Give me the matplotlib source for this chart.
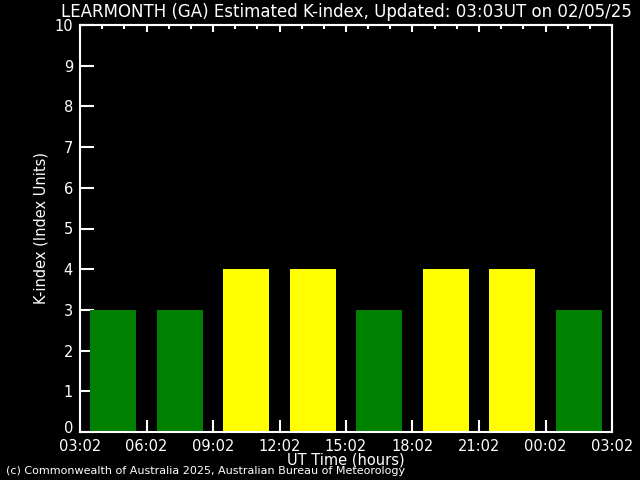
import matplotlib
matplotlib.use("Agg")
import matplotlib.pyplot as plt
from matplotlib.ticker import MultipleLocator
from matplotlib.transforms import ScaledTranslation

k_values = [3, 3, 4, 4, 3, 4, 4, 3]
bar_colors = ["#008000", "#008000", "#ffff00", "#ffff00", "#008000", "#ffff00", "#ffff00", "#008000"]
tick_labels = ["03:02", "06:02", "09:02", "12:02", "15:02", "18:02", "21:02", "00:02", "03:02"]
title = "LEARMONTH (GA) Estimated K-index, Updated: 03:03UT on 02/05/25"

fig = plt.figure(figsize=(6.4, 4.8), dpi=100, facecolor="black")
ax = fig.add_axes([80/640, 48/480, 532/640, 407/480], facecolor="black")

centers = [1.5 + 3*i for i in range(len(k_values))]
ax.bar(centers, k_values, width=2.08, color=bar_colors, zorder=2)

ax.set_xlim(0, 24)
ax.set_ylim(0, 10)
for s in ax.spines.values():
    s.set_color("white")
    s.set_linewidth(1.5)

ax.set_xticks(range(0, 25, 3))
ax.set_xticklabels(tick_labels)
ax.set_yticks(range(0, 11))
ax.tick_params(axis="x", which="major", direction="in", length=9, width=1.5,
               color="white", labelcolor="white", labelsize=10.5, top=False, pad=5)
ax.tick_params(axis="y", which="major", direction="in", length=10, width=1.5,
               color="white", labelcolor="white", labelsize=10.5, pad=5)

# shift the "0" label up slightly as in the reference
lbl0 = ax.get_yticklabels()[0]
lbl0.set_transform(lbl0.get_transform() + ScaledTranslation(0, 5/100, fig.dpi_scale_trans))

top = ax.secondary_xaxis("top")
top.set_xticks(range(0, 25, 3))
top.xaxis.set_minor_locator(MultipleLocator(1))
top.tick_params(axis="x", which="major", direction="in", length=5, width=1.5,
                color="white", labelleft=False, labeltop=False)
top.tick_params(axis="x", which="minor", direction="in", length=3, width=1.5, color="white")
top.spines["top"].set_color("white")
top.spines["top"].set_linewidth(1.5)

ax.set_ylabel("K-index (Index Units)", color="white", fontsize=10.5)
ax.yaxis.set_label_coords((49 - 80) / 532, 0.5)
fig.text(346/640, 1 - 460/480, "UT Time (hours)", color="white", fontsize=10.5, ha="center", va="center")
fig.text(346/640, 1 - 12/480, title, color="white", fontsize=12, ha="center", va="center")
fig.text(6/640, 1 - 471/480, "(c) Commonwealth of Australia 2025, Australian Bureau of Meteorology",
         color="white", fontsize=8, ha="left", va="center")

fig.savefig("out.png", dpi=100, facecolor="black")
